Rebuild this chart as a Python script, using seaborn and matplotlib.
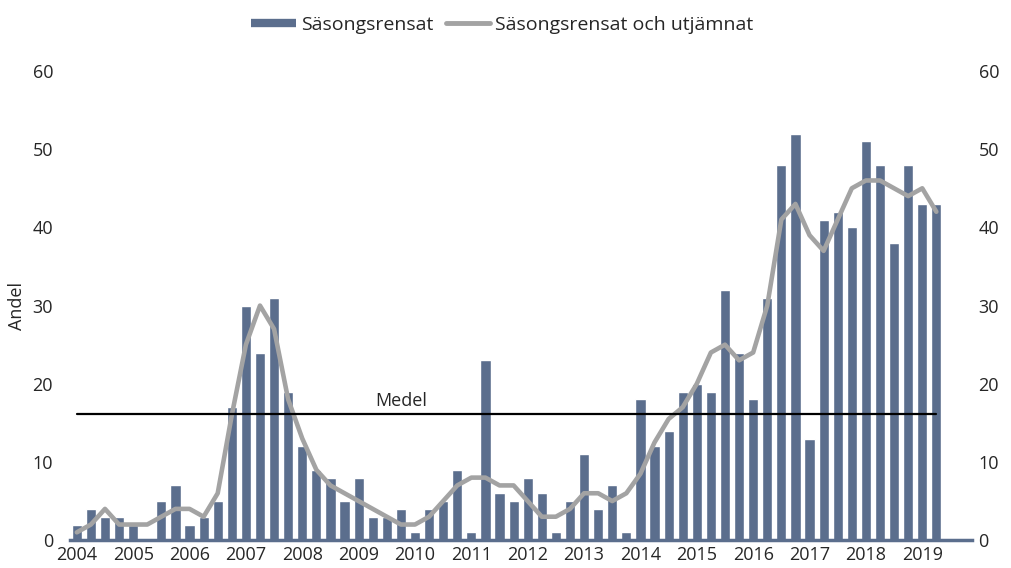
import seaborn as sns
import matplotlib.pyplot as plt
import numpy as np
import pandas as pd
from matplotlib.lines import Line2D

# Kvartal 2004Q1 - 2019Q2
kvartal = [f"{y}Q{q}" for y in range(2004, 2020) for q in range(1, 5)][:62]
years = [str(y) for y in range(2004, 2020)]

# Säsongsrensat (staplar)
sasongsrensat = [
    2, 4, 3, 3,
    2, 0, 5, 7,
    2, 3, 5, 17,
    30, 24, 31, 19,
    12, 9, 8, 5,
    8, 3, 3, 4,
    1, 4, 5, 9,
    1, 23, 6, 5,
    8, 6, 1, 5,
    11, 4, 7, 1,
    18, 12, 14, 19,
    20, 19, 32, 24,
    18, 31, 48, 52,
    13, 41, 42, 40,
    51, 48, 38, 48,
    43, 43,
]

# Säsongsrensat och utjämnat (linje)
utjamnat = [
    1, 2, 4, 2,
    2, 2, 3, 4,
    4, 3, 6, 16,
    25, 30, 27, 18,
    13, 9, 7, 6,
    5, 4, 3, 2,
    2, 3, 5, 7,
    8, 8, 7, 7,
    5, 3, 3, 4,
    6, 6, 5, 6,
    8.5, 12.5, 15.5, 17,
    20, 24, 25, 23,
    24, 30, 41, 43,
    39, 37, 41, 45,
    46, 46, 45, 44,
    45, 42,
]

medel = 16.1

bar_color = "#5b6e8d"
line_color = "#a3a3a3"

sns.set_theme(style="white")
plt.rcParams["font.family"] = ["Open Sans", "DejaVu Sans"]

df = pd.DataFrame({"kvartal": kvartal, "sasong": sasongsrensat, "utjamnat": utjamnat})

fig = plt.figure(figsize=(10.11, 5.68), dpi=100)
ax = fig.add_axes([0.069, 0.049, 0.892, 0.826])

sns.barplot(data=df, x="kvartal", y="sasong", color=bar_color, saturation=1,
            width=0.72, ax=ax)
sns.lineplot(x=np.arange(len(df)), y=df["utjamnat"], color=line_color, lw=3.3,
             solid_joinstyle="round", solid_capstyle="round", ax=ax)

# medelvärdeslinje
ax.plot([0, len(df) - 1], [medel, medel], color="black", lw=1.6)
ax.text(23, medel + 0.6, "Medel", ha="center", va="bottom", fontsize=13)

ax.set_xlim(-0.5, 63.5)
ax.set_ylim(0, 60)
ax.set_yticks(range(0, 61, 10))
ax.set_xticks(range(0, len(df), 4))
ax.set_xticklabels(years)
ax.set_xlabel("")
ax.set_ylabel("Andel", fontsize=13)
ax.yaxis.set_label_coords(-0.048, 0.5)
ax.tick_params(axis="both", length=0, labelsize=13)
ax.tick_params(axis="y", pad=12)
ax.tick_params(axis="x", pad=4)

for side in ["left", "right", "top"]:
    ax.spines[side].set_visible(False)
ax.spines["bottom"].set_color(bar_color)
ax.spines["bottom"].set_linewidth(2.5)

ax2 = ax.twinx()
ax2.set_ylim(0, 60)
ax2.set_yticks(range(0, 61, 10))
ax2.tick_params(axis="y", length=0, labelsize=13, pad=5)
for side in ["left", "right", "top", "bottom"]:
    ax2.spines[side].set_visible(False)

handles = [
    Line2D([], [], color=bar_color, lw=6, solid_capstyle="butt"),
    Line2D([], [], color=line_color, lw=3.5, solid_capstyle="round"),
]
fig.legend(handles, ["Säsongsrensat", "Säsongsrensat och utjämnat"],
           loc="center", bbox_to_anchor=(0.497, 0.956), ncol=2, frameon=False,
           fontsize=14, handlelength=2.3, handletextpad=0.26, columnspacing=0.62)

fig.savefig("out.png", dpi=100)
